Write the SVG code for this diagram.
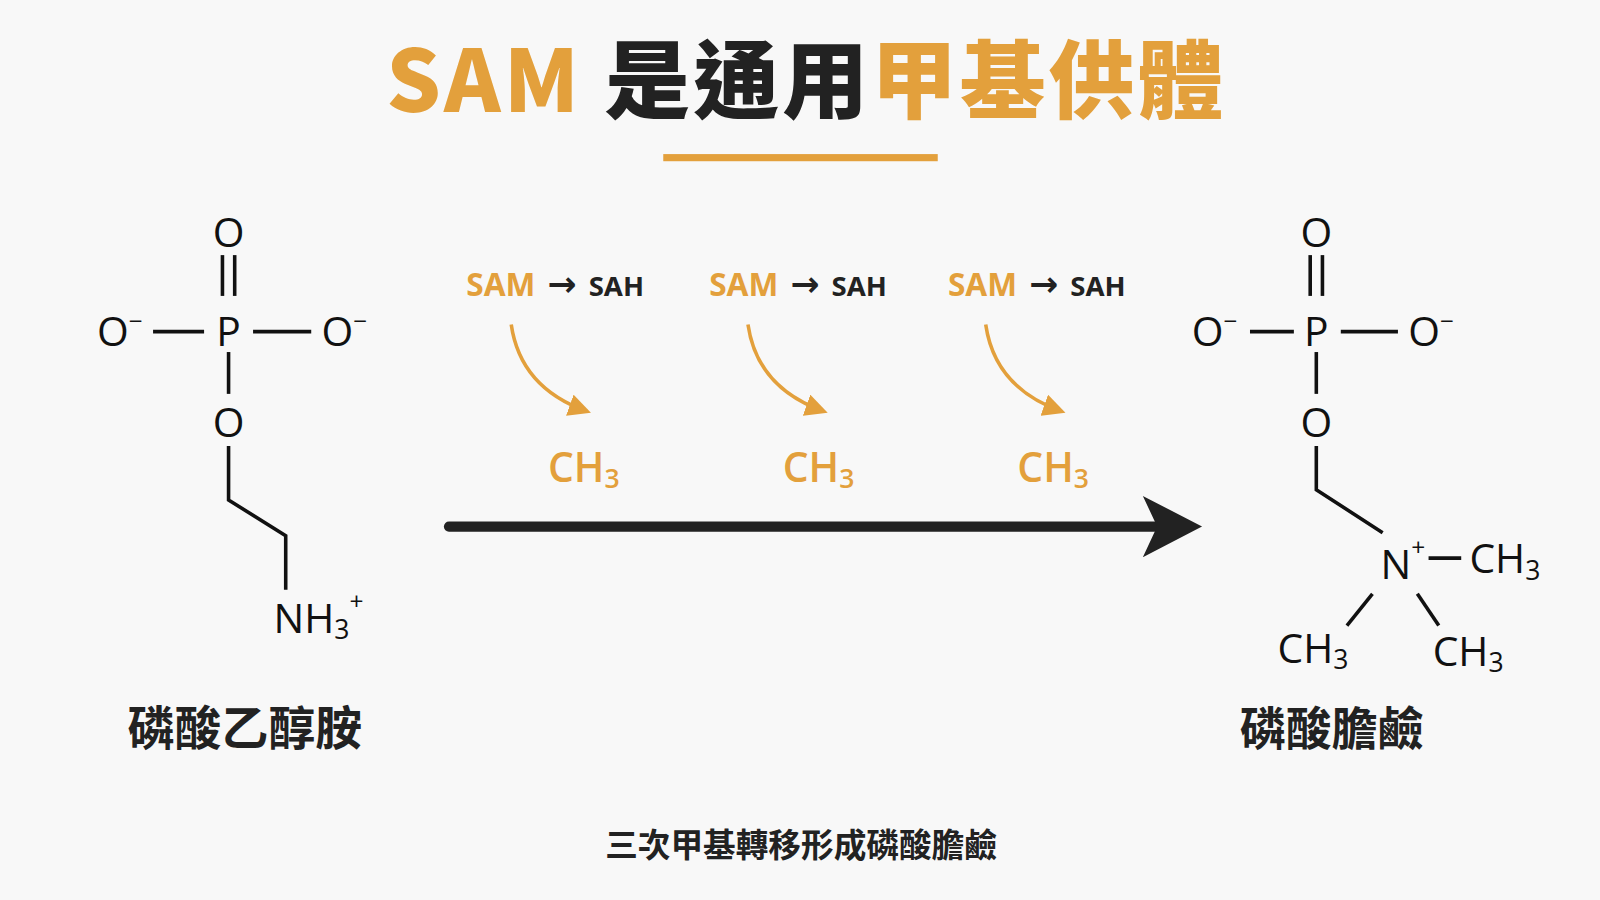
<svg xmlns="http://www.w3.org/2000/svg" width="1600" height="900" viewBox="0 0 1600 900">
<defs>
<style>
.at{font-family:"Open Sans","Noto Sans",sans-serif;font-size:40px;fill:#111}
.sup{font-size:24px}
.sub{font-size:26px}
.b{stroke:#111;stroke-width:3.5;fill:none;stroke-linecap:butt}
.or{fill:#e3a03c}
.cjk{font-family:"Noto Sans CJK TC",sans-serif;font-weight:700;fill:#222}
.s{font-family:"Noto Sans","Open Sans",sans-serif;font-weight:700;font-size:31px}
.ar{font-family:"DejaVu Sans",sans-serif;font-weight:700;font-size:34px}
.curve{stroke:#e3a03c;stroke-width:3.5;fill:none}
</style>
<marker id="oa" viewBox="0 0 10 10" refX="8" refY="5" markerWidth="22" markerHeight="22" markerUnits="userSpaceOnUse" orient="auto"><path d="M0,0L10,5L0,10z" fill="#e3a03c"/></marker>
</defs>
<rect width="1600" height="900" fill="#f8f8f8"/>
<g transform="scale(1.0204)">
<g id="title">
<text x="790" y="110" text-anchor="middle" style="font-family:'Noto Sans CJK TC',sans-serif;font-weight:900;font-size:84px;letter-spacing:3px"><tspan fill="#e3a03c">SAM </tspan><tspan fill="#222">是通用</tspan><tspan fill="#e3a03c">甲基供體</tspan></text>
<rect x="650" y="151" width="269" height="7" fill="#e3a03c"/>
</g>
<g id="ethanolamine">
<text class="at" x="224" y="242" text-anchor="middle">O</text>
<line class="b" x1="218" y1="250" x2="218" y2="290"/><line class="b" x1="230" y1="250" x2="230" y2="290"/>
<text class="at" x="224" y="339" text-anchor="middle">P</text>
<text class="at" x="95" y="339">O<tspan class="sup" dy="-16">−</tspan></text>
<line class="b" x1="150" y1="325" x2="200" y2="325"/>
<line class="b" x1="248" y1="325" x2="305" y2="325"/>
<text class="at" x="315" y="339">O<tspan class="sup" dy="-16">−</tspan></text>
<line class="b" x1="224" y1="345" x2="224" y2="386"/>
<text class="at" x="224" y="428" text-anchor="middle">O</text>
<polyline class="b" points="224,437 224,490 280,525 280,578"/>
<text class="at" x="268" y="620">NH<tspan class="sub" dy="6">3</tspan><tspan class="sup" dy="-28">+</tspan></text>
<text class="cjk" x="240" y="730" text-anchor="middle" font-size="46">磷酸乙醇胺</text>
</g>
<g id="choline">
<text class="at" x="1290" y="242" text-anchor="middle">O</text>
<line class="b" x1="1284" y1="250" x2="1284" y2="290"/><line class="b" x1="1296" y1="250" x2="1296" y2="290"/>
<text class="at" x="1290" y="339" text-anchor="middle">P</text>
<text class="at" x="1168" y="339">O<tspan class="sup" dy="-16">−</tspan></text>
<line class="b" x1="1225" y1="325" x2="1268" y2="325"/>
<line class="b" x1="1314" y1="325" x2="1370" y2="325"/>
<text class="at" x="1380" y="339">O<tspan class="sup" dy="-16">−</tspan></text>
<line class="b" x1="1290" y1="345" x2="1290" y2="386"/>
<text class="at" x="1290" y="428" text-anchor="middle">O</text>
<polyline class="b" points="1290,437 1290,480 1355,522"/>
<text class="at" x="1353" y="567">N<tspan class="sup" dy="-22">+</tspan></text>
<line class="b" x1="1400" y1="547" x2="1432" y2="547"/>
<text class="at" x="1440" y="562">CH<tspan class="sub" dy="6">3</tspan></text>
<line class="b" x1="1345" y1="582" x2="1320" y2="613"/>
<line class="b" x1="1389" y1="582" x2="1410" y2="613"/>
<text class="at" x="1252" y="650">CH<tspan class="sub" dy="6">3</tspan></text>
<text class="at" x="1404" y="653">CH<tspan class="sub" dy="6">3</tspan></text>
<text class="cjk" x="1305" y="730" text-anchor="middle" font-size="45">磷酸膽鹼</text>
</g>
<g id="methyl1">
<text class="s" x="457" y="290"><tspan fill="#e3a03c">SAM</tspan><tspan class="ar" fill="#222"> → </tspan><tspan fill="#222" font-size="27">SAH</tspan></text>
<text class="at or" x="537" y="472" font-weight="600">CH<tspan class="sub" dy="6">3</tspan></text>
</g>
<g id="methyl2">
<text class="s" x="695" y="290"><tspan fill="#e3a03c">SAM</tspan><tspan class="ar" fill="#222"> → </tspan><tspan fill="#222" font-size="27">SAH</tspan></text>
<text class="at or" x="767" y="472" font-weight="600">CH<tspan class="sub" dy="6">3</tspan></text>
</g>
<g id="methyl3">
<text class="s" x="929" y="290"><tspan fill="#e3a03c">SAM</tspan><tspan class="ar" fill="#222"> → </tspan><tspan fill="#222" font-size="27">SAH</tspan></text>
<text class="at or" x="997" y="472" font-weight="600">CH<tspan class="sub" dy="6">3</tspan></text>
</g>
<g id="connectors">
<path class="curve" d="M501,318 Q510,380 575,403" marker-end="url(#oa)"/>
<path class="curve" d="M733,318 Q742,380 807,403" marker-end="url(#oa)"/>
<path class="curve" d="M966,318 Q975,380 1040,403" marker-end="url(#oa)"/>
<line x1="440" y1="516" x2="1140" y2="516" stroke="#222" stroke-width="10" stroke-linecap="round"/>
<path d="M1120,486 L1178,516 L1120,546 L1134,516z" fill="#222"/>
</g>
<text class="cjk" x="785" y="840" text-anchor="middle" font-size="32">三次甲基轉移形成磷酸膽鹼</text>
</g>
</svg>
